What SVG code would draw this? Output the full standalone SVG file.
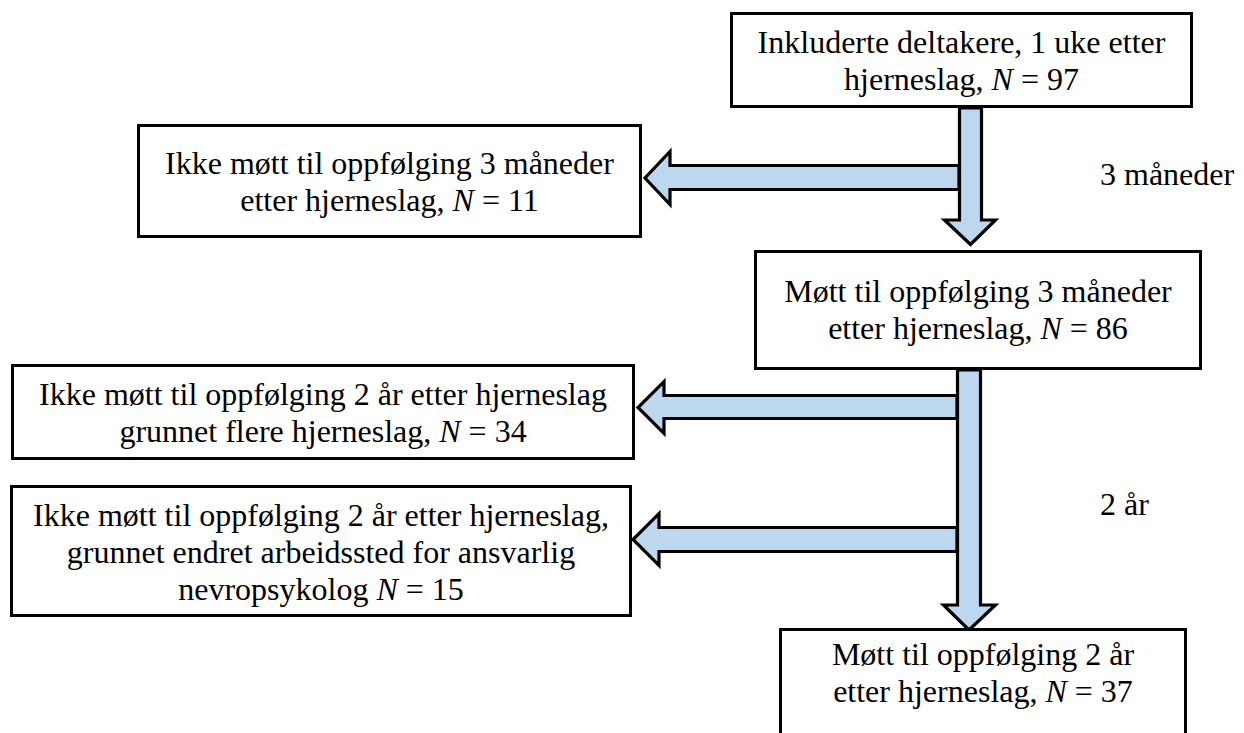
<svg xmlns="http://www.w3.org/2000/svg" width="1244" height="733" viewBox="0 0 1244 733">
<style>
.box{fill:#fff;stroke:#000;stroke-width:3}
.arr{fill:#BDD7EE;stroke:#000;stroke-width:3.2;stroke-linejoin:miter}
.t{font-family:'Liberation Serif',Tinos,'Times New Roman',Times,'DejaVu Serif',serif;font-size:32px;fill:#000}
.c{text-anchor:middle}
.i{font-style:italic}
</style>
<rect x="0" y="0" width="1244" height="733" fill="#fff"/>
<g id="connectors">
<path class="arr" d="M959,165.5 H670 V151.5 L645,178 L670,204.5 V189.5 H959 Z"/>
<path class="arr" d="M957,395.5 H664 V381.5 L638,407.5 L664,433.5 V418.5 H957 Z"/>
<path class="arr" d="M957,527.5 H659 V513.5 L633,539.5 L659,565.5 V551.5 H957 Z"/>
<path class="arr" d="M959.5,108 H981.5 V220 H995.5 L970.5,244.5 L944.5,220 H959.5 Z"/>
<path class="arr" d="M957.5,370 H980.5 V605 H995.5 L969,630 L943.5,605 H957.5 Z"/>
</g>
<g id="n1">
<rect class="box" x="731.5" y="13.5" width="460" height="93"/>
<text class="t c" font-family="Liberation Serif, serif" x="961.5" y="53">Inkluderte deltakere, 1 uke etter</text>
<text class="t c" font-family="Liberation Serif, serif" x="961.5" y="90">hjerneslag, <tspan class="i">N</tspan> = 97</text>
</g>
<g id="n2">
<rect class="box" x="138.5" y="125.5" width="502" height="111"/>
<text class="t c" font-family="Liberation Serif, serif" x="389.5" y="174">Ikke møtt til oppfølging 3 måneder</text>
<text class="t c" font-family="Liberation Serif, serif" x="389.5" y="211">etter hjerneslag, <tspan class="i">N</tspan> = 11</text>
</g>
<g id="n3">
<rect class="box" x="755.5" y="251.5" width="445" height="117"/>
<text class="t c" font-family="Liberation Serif, serif" x="978" y="302">Møtt til oppfølging 3 måneder</text>
<text class="t c" font-family="Liberation Serif, serif" x="978" y="339">etter hjerneslag, <tspan class="i">N</tspan> = 86</text>
</g>
<g id="n4">
<rect class="box" x="12.5" y="365.5" width="621" height="93"/>
<text class="t c" font-family="Liberation Serif, serif" x="323" y="405">Ikke møtt til oppfølging 2 år etter hjerneslag</text>
<text class="t c" font-family="Liberation Serif, serif" x="323" y="442">grunnet flere hjerneslag, <tspan class="i">N</tspan> = 34</text>
</g>
<g id="n5">
<rect class="box" x="11.5" y="486.5" width="619" height="129"/>
<text class="t c" font-family="Liberation Serif, serif" x="321" y="526">Ikke møtt til oppfølging 2 år etter hjerneslag,</text>
<text class="t c" font-family="Liberation Serif, serif" x="321" y="563">grunnet endret arbeidssted for ansvarlig</text>
<text class="t c" font-family="Liberation Serif, serif" x="321" y="600">nevropsykolog <tspan class="i">N</tspan> = 15</text>
</g>
<g id="n6">
<rect class="box" x="780.5" y="629.5" width="405" height="120"/>
<text class="t c" font-family="Liberation Serif, serif" x="983" y="665">Møtt til oppfølging 2 år</text>
<text class="t c" font-family="Liberation Serif, serif" x="983" y="702">etter hjerneslag, <tspan class="i">N</tspan> = 37</text>
</g>
<g id="labels">
<text class="t" font-family="Liberation Serif, serif" x="1100" y="185">3 måneder</text>
<text class="t" font-family="Liberation Serif, serif" x="1100" y="515">2 år</text>
</g>
</svg>
